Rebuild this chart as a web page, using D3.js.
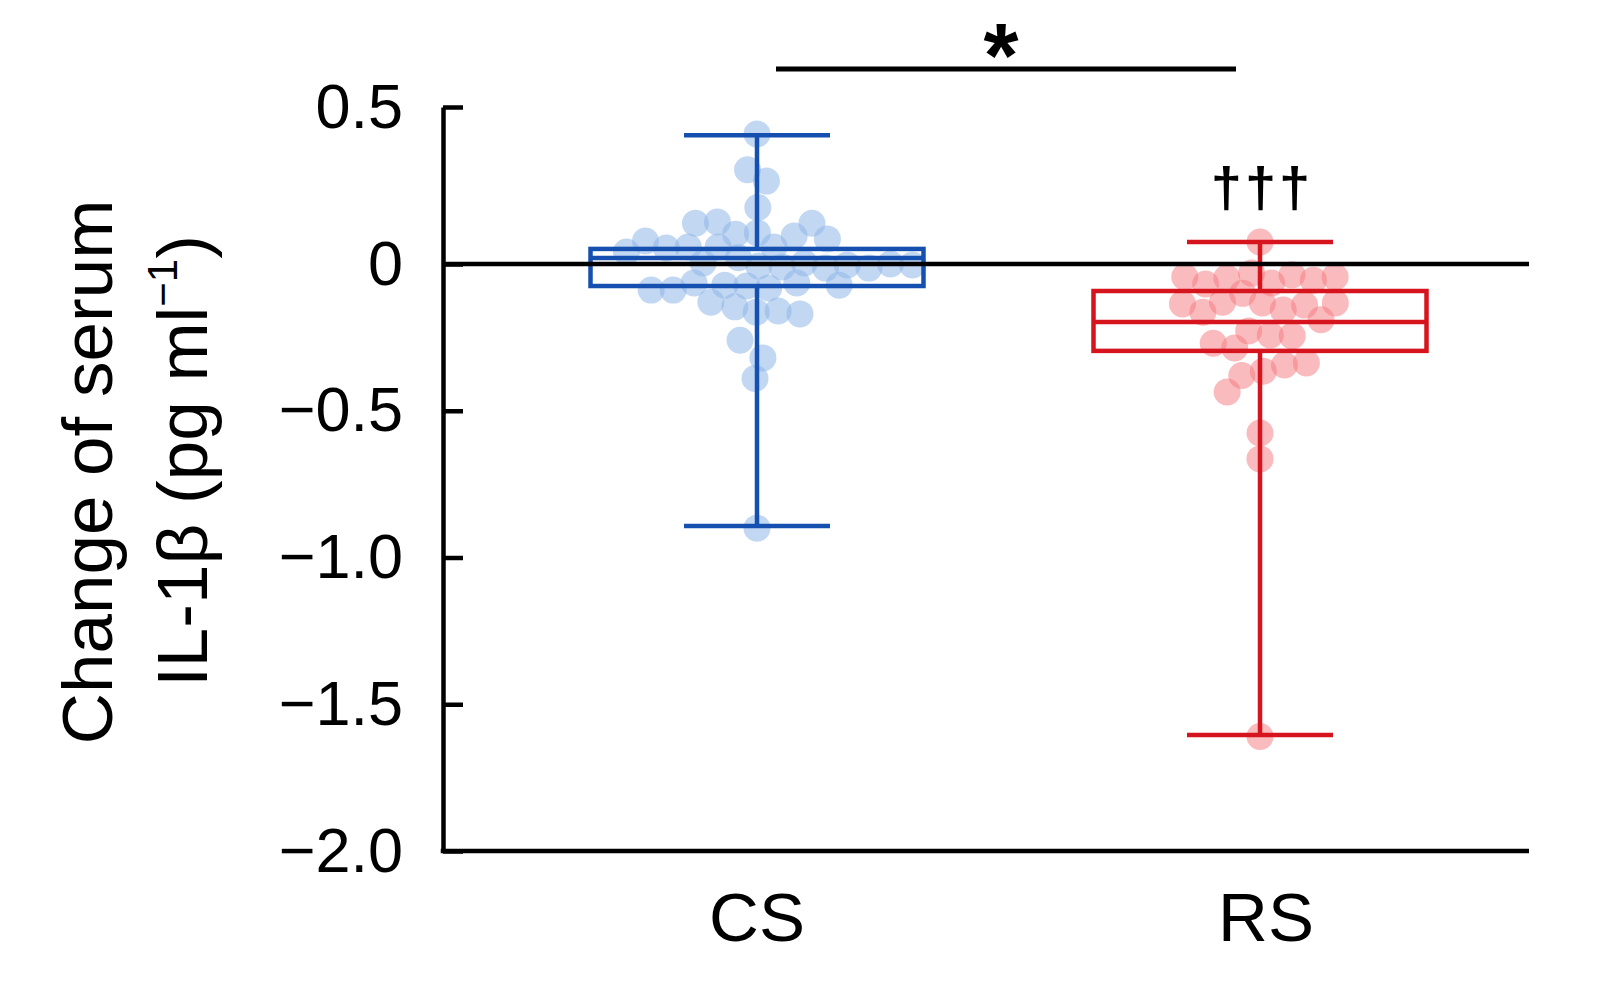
<!DOCTYPE html>
<html>
<head>
<meta charset="utf-8">
<script src="https://cdn.jsdelivr.net/npm/d3@7"></script>
<style>
  html, body { margin: 0; padding: 0; background: #fff; }
  text { font-family: "Liberation Sans", Arial, Helvetica, sans-serif; }
</style>
</head>
<body>
<svg width="1599" height="984"></svg>
<script>
'use strict';

// ---- data ----
const categories = ["CS", "RS"];

const csValues = [0.414, 0.30, 0.264, 0.18, 0.134, 0.13, 0.13, 0.08, 0.095, 0.099,
  0.089, 0.073, 0.054, 0.038, 0.051, 0.054, 0.054, 0.003, 0, -0.003,
  -0.014, -0.003, -0.007, 0.003, -0.014, -0.01, -0.065, -0.075, -0.072, -0.072,
  -0.082, -0.065, -0.089, -0.13, -0.16, -0.146, -0.17, -0.164, -0.26, -0.32,
  -0.39, -0.90, -0.089, 0.02];

const rsValues = [0.07, -0.068, -0.044, -0.055, -0.065, -0.031, -0.037, -0.044, -0.048,
  -0.14, -0.13, -0.133, -0.133, -0.164, -0.136, -0.157, -0.19, -0.228, -0.245,
  -0.242, -0.27, -0.286, -0.337, -0.365, -0.38, -0.344, -0.436, -0.576, -0.664,
  -1.61, -0.10];

// box summaries: [whisker low, q1, median, q3, whisker high]
const csBox = [-0.893, -0.075, 0.019, 0.048, 0.41];
const rsBox = [-1.605, -0.296, -0.198, -0.092, 0.07];

const yTicks = [0.5, 0, -0.5, -1.0, -1.5, -2.0];

const yTitle1 = "Change of serum";
const significance = "*";
const rsMark = "\u2020\u2020\u2020";

// ---- layout ----
const width = 1599, height = 984;
const axisX = 443, axisRight = 1529;
const boxW = 333, capW = 146, r = 13.5;

const svg = d3.select("svg")
  .attr("viewBox", [0, 0, width, height]);

svg.append("rect").attr("width", width).attr("height", height).attr("fill", "#fff");

const y = d3.scaleLinear()
  .domain([-2, 0, 0.5])
  .range([851, 264, 107]);

const x = d3.scalePoint()
  .domain(categories)
  .range([757, 1260]);

const groups = [
  {name: "CS", values: csValues, box: csBox, line: "#1550b0", dot: "#8fb6e8", op: 0.55},
  {name: "RS", values: rsValues, box: rsBox, line: "#d6141e", dot: "#f5787e", op: 0.5}
];

// beeswarm positions from a force layout, y fixed to the value
groups.forEach(g => {
  g.nodes = g.values.map(v => ({v, x: x(g.name), fy: y(v)}));
  const sim = d3.forceSimulation(g.nodes)
    .force("x", d3.forceX(x(g.name)).strength(0.008))
    .force("collide", d3.forceCollide(11))
    .stop();
  for (let i = 0; i < 300; i++) sim.tick();
});

const plot = svg.append("g");

// points
groups.forEach(g => {
  plot.append("g")
    .selectAll("circle")
    .data(g.nodes)
    .join("circle")
      .attr("cx", d => d.x)
      .attr("cy", d => d.fy)
      .attr("r", r)
      .attr("fill", g.dot)
      .attr("fill-opacity", g.op);
});

// boxes and whiskers
groups.forEach(g => {
  const cx = x(g.name);
  const [lo, q1, med, q3, hi] = g.box;
  const bg = plot.append("g")
    .attr("stroke", g.line)
    .attr("stroke-width", 4.5)
    .attr("fill", "none");

  bg.append("line")
    .attr("x1", cx).attr("x2", cx)
    .attr("y1", y(hi)).attr("y2", y(q3));
  bg.append("line")
    .attr("x1", cx).attr("x2", cx)
    .attr("y1", y(q1)).attr("y2", y(lo));
  [lo, hi].forEach(v => bg.append("line")
    .attr("x1", cx - capW / 2).attr("x2", cx + capW / 2)
    .attr("y1", y(v)).attr("y2", y(v)));
  bg.append("rect")
    .attr("x", cx - boxW / 2)
    .attr("y", y(q3))
    .attr("width", boxW)
    .attr("height", y(q1) - y(q3));
  bg.append("line")
    .attr("x1", cx - boxW / 2).attr("x2", cx + boxW / 2)
    .attr("y1", y(med)).attr("y2", y(med));
});

// zero line
svg.append("line")
  .attr("x1", axisX).attr("x2", axisRight)
  .attr("y1", y(0)).attr("y2", y(0))
  .attr("stroke", "#000")
  .attr("stroke-width", 4.5);

// y axis, ticks pointing inward
const fmt = d3.format(".1f");
const yAxis = svg.append("g")
  .attr("transform", `translate(${axisX},0)`)
  .call(d3.axisLeft(y)
    .tickValues(yTicks)
    .tickSizeInner(-20)
    .tickSizeOuter(0)
    .tickPadding(40)
    .tickFormat(d => d === 0 ? "0" : fmt(d)));

yAxis.select(".domain").attr("stroke", "#000").attr("stroke-width", 4.5);
yAxis.selectAll(".tick line").attr("stroke", "#000").attr("stroke-width", 4.5);
yAxis.selectAll(".tick text")
  .attr("fill", "#000")
  .attr("font-size", 63)
  .attr("font-family", "Liberation Sans, Arial, sans-serif");

// bottom axis line
svg.append("line")
  .attr("x1", axisX - 2.25).attr("x2", axisRight)
  .attr("y1", y(-2)).attr("y2", y(-2))
  .attr("stroke", "#000")
  .attr("stroke-width", 4.5);

// category labels
svg.append("g")
  .selectAll("text")
  .data(categories)
  .join("text")
    .attr("x", d => x(d) + (d === "RS" ? 6 : 0))
    .attr("y", 941)
    .attr("text-anchor", "middle")
    .attr("font-size", 69)
    .attr("fill", "#000")
    .text(d => d);

// y title, two lines
svg.append("text")
  .attr("transform", "translate(112,472) rotate(-90)")
  .attr("text-anchor", "middle")
  .attr("font-size", 71)
  .text(yTitle1);

const t2 = svg.append("text")
  .attr("transform", "translate(207,461) rotate(-90)")
  .attr("text-anchor", "middle")
  .attr("font-size", 71);
t2.append("tspan").text("IL-1\u03B2 (pg ml");
t2.append("tspan").attr("font-size", 42).attr("dy", -30).text("\u22121");
t2.append("tspan").attr("dy", 30).text(")");

// significance bar
svg.append("line")
  .attr("x1", 776).attr("x2", 1236)
  .attr("y1", 69).attr("y2", 69)
  .attr("stroke", "#000")
  .attr("stroke-width", 5);

svg.append("text")
  .attr("x", 1001)
  .attr("y", 87)
  .attr("text-anchor", "middle")
  .attr("font-size", 90)
  .attr("font-weight", "bold")
  .text(significance);

svg.append("text")
  .attr("x", x("RS") + 2)
  .attr("y", 206)
  .attr("text-anchor", "middle")
  .attr("font-size", 56)
  .attr("font-weight", "bold")
  .attr("letter-spacing", 3)
  .text(rsMark);
</script>
</body>
</html>
